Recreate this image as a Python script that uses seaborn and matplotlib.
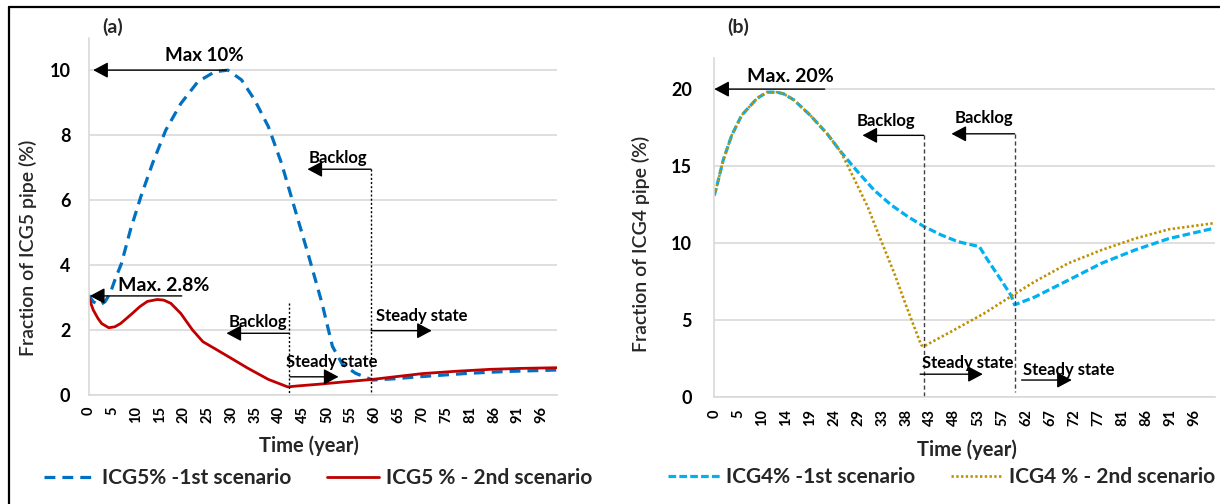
import numpy as np
import pandas as pd
import matplotlib
matplotlib.use("Agg")
import matplotlib.pyplot as plt
from matplotlib.lines import Line2D
import seaborn as sns

# ---------------- data ----------------
# Panel (a): fraction of ICG5 pipe (%) over time (years)
icg5_s1_year = [0, 1.0, 2.4, 3.5, 4.6, 5.6, 7.0, 8.9, 11.1, 13.6, 16.4, 19.6, 23.2, 26.8,
                29.6, 32.5, 35.3, 38.2, 41.0, 43.9, 46.8, 49.6, 51.8, 53.9, 56.7, 60.3,
                65, 70, 75, 80, 85, 90, 95, 99.5]
icg5_s1_value = [3.08, 2.87, 2.77, 2.87, 3.13, 3.54, 4.05, 5.08, 6.10, 7.13, 8.15, 8.97, 9.64,
                 9.95, 10.0, 9.70, 9.08, 8.26, 7.13, 5.69, 4.26, 2.82, 1.50, 0.95, 0.67, 0.46,
                 0.50, 0.56, 0.61, 0.66, 0.70, 0.73, 0.75, 0.77]

icg5_s2_year = [0, 1.0, 2.0, 2.8, 4.3, 5.6, 6.8, 8.1, 9.6, 10.9, 12.5, 14.6, 16.0, 17.5,
                19.6, 22.1, 24.3, 26.8, 30.3, 33.9, 38.2, 42.3, 44.5, 49.6, 54, 60.3, 65,
                71, 78, 85.3, 92, 99.5]
icg5_s2_value = [3.02, 2.62, 2.36, 2.20, 2.07, 2.10, 2.20, 2.36, 2.55, 2.72, 2.88, 2.94, 2.92,
                 2.82, 2.51, 2.00, 1.64, 1.43, 1.13, 0.82, 0.48, 0.25, 0.28, 0.34, 0.40, 0.48,
                 0.56, 0.66, 0.73, 0.79, 0.82, 0.84]

# Panel (b): fraction of ICG4 pipe (%) over time (years)
icg4_s1_year = [0, 0.5, 1.8, 3.5, 5.5, 8.6, 10.6, 12.6, 13.9, 16.0, 19.3, 22.7, 25.4, 28.8,
                32.1, 35.5, 38.9, 42.2, 45.6, 49.0, 53.3, 55.0, 57.7, 59.7, 60.4, 64.4,
                71.2, 77.9, 84.6, 91.4, 100.5]
icg4_s1_value = [13.1, 13.7, 15.4, 17.0, 18.3, 19.4, 19.8, 19.8, 19.7, 19.3, 18.3, 17.1, 15.95,
                 14.65, 13.46, 12.5, 11.73, 11.08, 10.54, 10.1, 9.78, 8.9, 7.6, 6.6, 6.0,
                 6.5, 7.6, 8.7, 9.56, 10.3, 10.97]

icg4_s2_year = [0, 0.5, 1.8, 3.5, 5.5, 8.6, 10.6, 12.6, 13.9, 16.0, 19.3, 22.7, 25.4, 28.1,
                30.8, 33.5, 36.2, 38.9, 41.6, 42.1, 47.6, 54.3, 60.1, 64.4, 71.2, 77.9,
                84.6, 91.4, 100.5]
icg4_s2_value = [13.1, 13.7, 15.4, 17.0, 18.3, 19.4, 19.8, 19.8, 19.7, 19.3, 18.3, 17.1, 15.95,
                 14.2, 12.4, 10.2, 8.05, 5.67, 3.4, 3.3, 4.26, 5.45, 6.64, 7.5, 8.7, 9.56,
                 10.3, 10.9, 11.3]

# category-axis labels (one label every five simulation steps)
ticks_a = ["0", "5", "10", "15", "20", "25", "30", "35", "40", "45", "50", "55", "60",
           "65", "70", "75", "81", "86", "91", "96"]
ticks_b = ["0", "5", "10", "14", "19", "24", "29", "33", "38", "43", "48", "53", "57",
           "62", "67", "72", "77", "81", "86", "91", "96"]
step_a = 1.013   # years per simulation step, panel (a)
step_b = 0.965   # years per simulation step, panel (b)

label_s1_a = "ICG5% -1st scenario"
label_s2_a = "ICG5 % - 2nd scenario"
label_s1_b = "ICG4% -1st scenario"
label_s2_b = "ICG4 % - 2nd scenario"

# ---------------- style ----------------
sns.set_theme(style="white")
plt.rcParams["font.family"] = ["Lato", "DejaVu Sans"]

W, H = 1220, 504
fig = plt.figure(figsize=(W / 100, H / 100), dpi=100)
fig.patch.set_facecolor("white")


def fx(px):
    return px / W


def fy(py):
    return 1 - py / H


ax_a = fig.add_axes([fx(88.5), fy(395), (557 - 88.5) / W, (395 - 38.3) / H])
ax_b = fig.add_axes([fx(714.3), fy(397.3), (1215 - 714.3) / W, (397.3 - 58.3) / H])

BLUE_A = "#0070C0"
RED_A = "#C00000"
BLUE_B = "#00B0F0"
GOLD_B = "#BF9000"
GRID = "#D9D9D9"

df_a1 = pd.DataFrame({"year": icg5_s1_year, "value": icg5_s1_value})
df_a2 = pd.DataFrame({"year": icg5_s2_year, "value": icg5_s2_value})
df_b1 = pd.DataFrame({"year": icg4_s1_year, "value": icg4_s1_value})
df_b2 = pd.DataFrame({"year": icg4_s2_year, "value": icg4_s2_value})

sns.lineplot(data=df_a1, x="year", y="value", ax=ax_a, color=BLUE_A, lw=2.3,
             linestyle=(0, (3.4, 2.2)), label=label_s1_a, legend=False)
sns.lineplot(data=df_a2, x="year", y="value", ax=ax_a, color=RED_A, lw=2.0,
             label=label_s2_a, legend=False)
sns.lineplot(data=df_b1, x="year", y="value", ax=ax_b, color=BLUE_B, lw=2.3,
             linestyle=(0, (2.4, 1.0)), label=label_s1_b, legend=False)
sns.lineplot(data=df_b2, x="year", y="value", ax=ax_b, color=GOLD_B, lw=1.9,
             linestyle=(0, (0.9, 0.9)), label=label_s2_b, legend=False)


def style_axes(ax, xmax, ymax, yticks, ticks, step, ypad, xpad):
    ax.set_xlim(0, xmax)
    ax.set_ylim(0, ymax)
    ax.set_yticks(yticks)
    ax.set_yticklabels([str(t) for t in yticks], fontsize=13, fontweight="bold")
    pos = np.arange(len(ticks)) * 5 * step
    ax.set_xticks(pos)
    ax.set_xticklabels(ticks, rotation=90, fontsize=10.5, fontweight="bold")
    ax.tick_params(axis="y", length=0, pad=ypad, colors="black")
    ax.tick_params(axis="x", length=0, pad=xpad, colors="black")
    ax.grid(axis="y", color=GRID, lw=1.2)
    ax.grid(axis="x", visible=False)
    for side in ("top", "right"):
        ax.spines[side].set_visible(False)
    for side in ("left", "bottom"):
        ax.spines[side].set_color(GRID)
        ax.spines[side].set_linewidth(1.2)
    ax.set_xlabel("")
    ax.set_ylabel("")
    ax.set_facecolor("white")


style_axes(ax_a, 99.5, 10.98, [0, 2, 4, 6, 8, 10], ticks_a, step_a, 13, 8)
style_axes(ax_b, 100.7, 22.0, [0, 5, 10, 15, 20], ticks_b, step_b, 16, 8.5)

ARROW = dict(arrowstyle="-|>,head_length=0.6,head_width=0.32", mutation_scale=15,
             color="black", lw=1.0, shrinkA=0, shrinkB=0)


def arrow(ax, x0, x1, y):
    ax.annotate("", xy=(x1, y), xytext=(x0, y), arrowprops=ARROW, annotation_clip=False)


def note(ax, x, y, s, size=12):
    ax.text(x, y, s, ha="center", va="center", fontsize=size, fontweight="bold",
            color="black", clip_on=False)


# ---- panel (a) annotations ----
note(ax_a, 24.7, 10.46, "Max 10%", 13.5)
arrow(ax_a, 29.3, 1.0, 10.0)
note(ax_a, 16.0, 3.38, "Max. 2.8%", 14)
arrow(ax_a, 19.8, 0.3, 3.05)
ax_a.plot([42.6, 42.6], [2.83, 0], color="black", lw=1, linestyle=(0, (1.5, 1.5)))
ax_a.plot([60.0, 60.0], [6.95, 0], color="black", lw=1, linestyle=(0, (1.5, 1.5)))
note(ax_a, 35.9, 2.26, "Backlog")
arrow(ax_a, 42.6, 29.3, 1.9)
note(ax_a, 51.7, 1.02, "Steady state")
arrow(ax_a, 42.8, 53.1, 0.56)
note(ax_a, 52.9, 7.28, "Backlog")
arrow(ax_a, 60.0, 46.5, 6.95)
note(ax_a, 70.7, 2.44, "Steady state")
arrow(ax_a, 60.0, 72.9, 1.98)

# ---- panel (b) annotations ----
note(ax_b, 15.2, 20.8, "Max. 20%", 14)
arrow(ax_b, 22.2, 0.0, 20.0)
ax_b.plot([42.1, 42.1], [17.0, -0.1], color="#404040", lw=1, linestyle=(0, (3, 2)),
          clip_on=False)
ax_b.plot([60.4, 60.4], [17.1, 0.35], color="#404040", lw=1, linestyle=(0, (3, 2)))
note(ax_b, 34.5, 17.9, "Backlog")
arrow(ax_b, 42.1, 29.8, 17.0)
note(ax_b, 54.2, 18.1, "Backlog")
arrow(ax_b, 60.4, 47.7, 17.1)
note(ax_b, 51.0, 2.2, "Steady state")
arrow(ax_b, 41.4, 54.0, 1.5)
note(ax_b, 71.2, 1.77, "Steady state")
arrow(ax_b, 61.8, 71.9, 1.12)

# ---- axis titles and panel tags ----
fig.text(fx(28), fy(248), "Fraction of ICG5 pipe (%)", rotation=90, ha="center",
         va="center", fontsize=14, fontweight="semibold")
fig.text(fx(641), fy(244), "Fraction of ICG4 pipe (%)", rotation=90, ha="center",
         va="center", fontsize=14, fontweight="semibold")
fig.text(fx(309), fy(446), "Time (year)", ha="center", va="center", fontsize=14.5,
         fontweight="bold")
fig.text(fx(967), fy(450), "Time (year)", ha="center", va="center", fontsize=14.5,
         fontweight="bold")
fig.text(fx(112.5), fy(27), "(a)", ha="center", va="center", fontsize=14, fontweight="bold")
fig.text(fx(738.4), fy(27), "(b)", ha="center", va="center", fontsize=14, fontweight="bold")

# ---- legends below each panel ----
for ax, cx, cy in ((ax_a, 318, 478), (ax_b, 941.6, 477)):
    handles, labels = ax.get_legend_handles_labels()
    fig.legend(handles, labels, loc="center", bbox_to_anchor=(fx(cx), fy(cy)),
               ncol=2, frameon=False, handlelength=2.5, handletextpad=0.3,
               columnspacing=1.7, prop={"size": 15, "weight": "bold"})

# ---- outer frame (top and left edges) ----
fig.add_artist(Line2D([fx(9), 1], [fy(7), fy(7)], transform=fig.transFigure,
                      color="black", lw=1.6))
fig.add_artist(Line2D([fx(9), fx(9)], [fy(7), 0], transform=fig.transFigure,
                      color="black", lw=1.6))

fig.savefig("out.png", dpi=100)
